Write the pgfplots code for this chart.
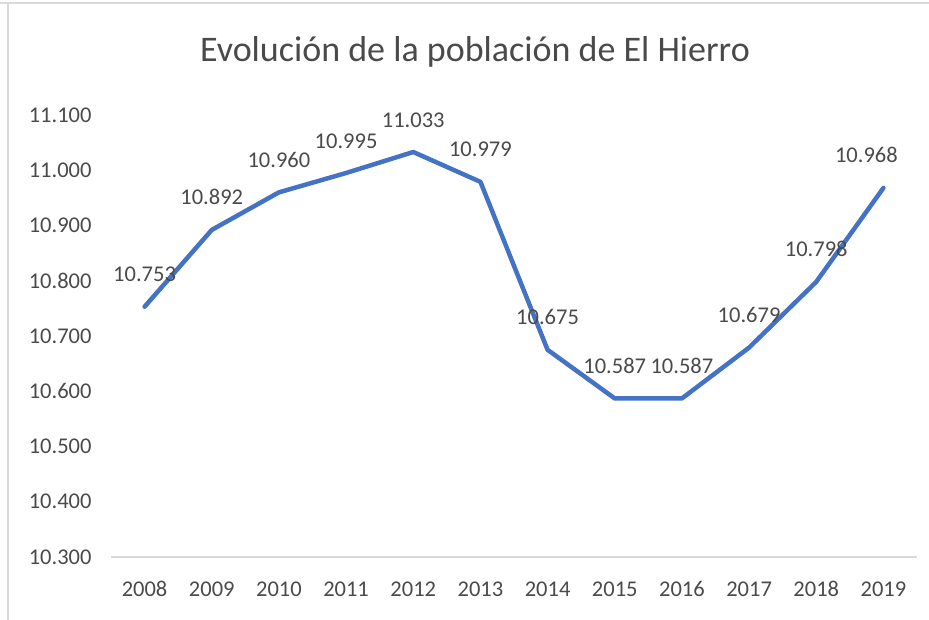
\documentclass[border=0pt]{standalone}
\usepackage{pgfplots}
\pgfplotsset{compat=1.18}
\usepackage{fontspec}
\setmainfont{Carlito}
\definecolor{xlblue}{HTML}{4472C4}
\definecolor{xltext}{HTML}{4A4A4A}
\definecolor{xlgrid}{HTML}{D9D9D9}
\begin{document}
\begin{tikzpicture}[x=1pt,y=1pt]
\path[use as bounding box] (0,0) rectangle (929,620);
\draw[xlgrid, line width=1.5pt] (0,617) -- (929,617);
\draw[xlgrid, line width=1.5pt] (8,0) -- (8,617);
\node[text=xltext, font=\fontsize{36}{42}\selectfont] at (475,568) {Evolución de la población de El Hierro};
\begin{axis}[
  at={(111pt,63pt)}, anchor=south west,
  width=806pt, height=442pt, scale only axis,
  xmin=-0.5, xmax=11.5,
  ymin=10300, ymax=11100,
  scaled y ticks=false,
  xtick={0,...,11},
  xticklabels={2008,2009,2010,2011,2012,2013,2014,2015,2016,2017,2018,2019},
  ytick={10300,10400,10500,10600,10700,10800,10900,11000,11100},
  yticklabels={10.300,10.400,10.500,10.600,10.700,10.800,10.900,11.000,11.100},
  axis x line*=bottom, axis y line*=left,
  x axis line style={draw=xlgrid, line width=1.2pt, -},
  y axis line style={draw=none},
  major tick length=0pt,
  tick label style={text=xltext, font=\fontsize{22.5}{26}\selectfont},
  yticklabel style={xshift=-16pt},
  xticklabel style={yshift=-21pt},
  clip=false,
  point meta=explicit symbolic,
  every node near coord/.append style={text=xltext, font=\fontsize{22.5}{26}\selectfont, anchor=base, yshift=25pt},
]
\addplot[xlblue, line width=4.5pt, line join=round, line cap=round, mark=none, nodes near coords] coordinates {
  (0,10753) [10.753]
  (1,10892) [10.892]
  (2,10960) [10.960]
  (3,10995) [10.995]
  (4,11033) [11.033]
  (5,10979) [10.979]
  (6,10675) [10.675]
  (7,10587) [10.587]
  (8,10587) [10.587]
  (9,10679) [10.679]
  (10,10798) [10.798]
  (11,10968) []
};
\addplot[draw=none, mark=none, nodes near coords, every node near coord/.append style={xshift=-17pt}] coordinates {
  (11,10968) [10.968]
};
\end{axis}
\end{tikzpicture}
\end{document}
